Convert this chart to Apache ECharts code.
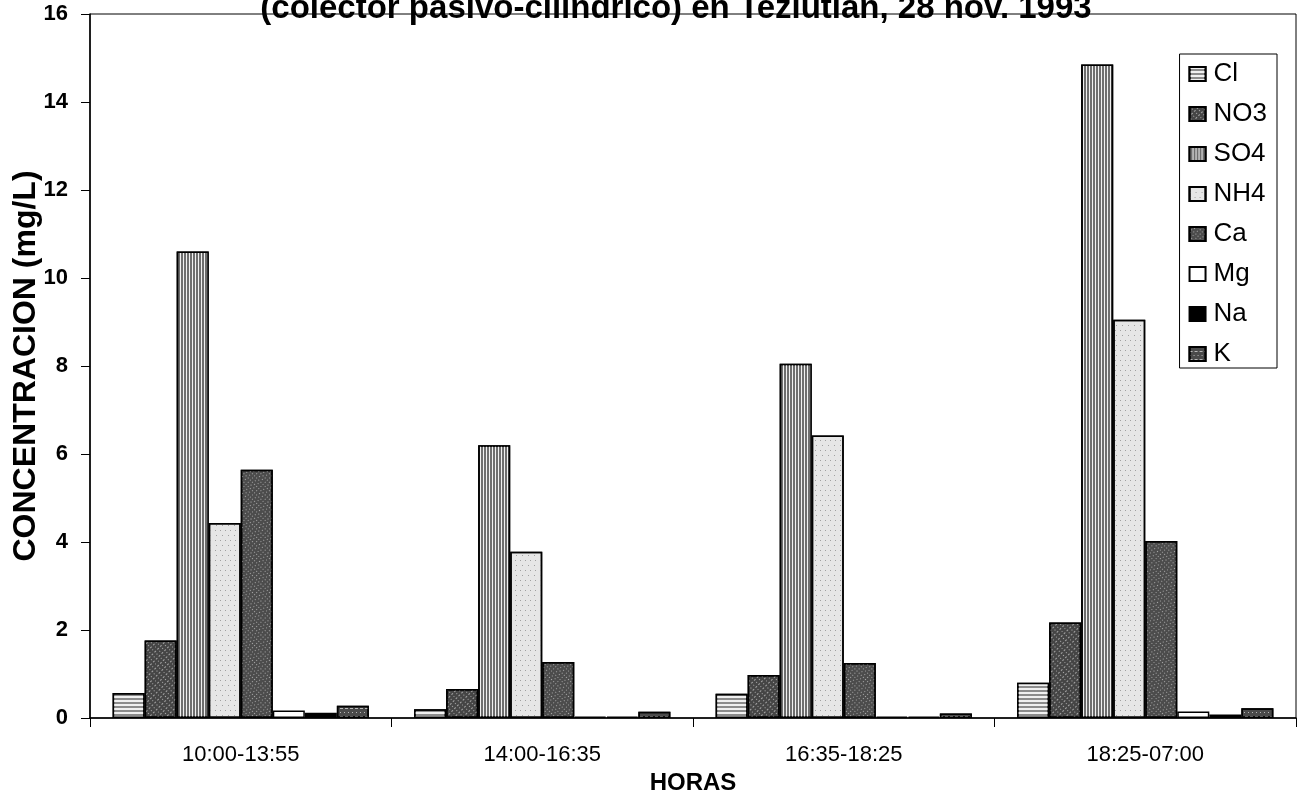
<!DOCTYPE html>
<html>
<head>
<meta charset="utf-8">
<script src="https://cdn.jsdelivr.net/npm/echarts@6/dist/echarts.min.js"></script>
<style>
html,body{margin:0;padding:0;background:#fff;}
#chart{width:1300px;height:794px;}
</style>
</head>
<body>
<div id="chart"></div>
<script>
var categories = ['10:00-13:55', '14:00-16:35', '16:35-18:25', '18:25-07:00'];
var seriesNames = ['Cl', 'NO3', 'SO4', 'NH4', 'Ca', 'Mg', 'Na', 'K'];
var Cl  = [0.57, 0.20, 0.55, 0.80];
var NO3 = [1.76, 0.66, 0.98, 2.17];
var SO4 = [10.6, 6.2, 8.05, 14.85];
var NH4 = [4.43, 3.78, 6.42, 9.05];
var Ca  = [5.64, 1.27, 1.25, 4.02];
var Mg  = [0.17, 0.03, 0.03, 0.15];
var Na  = [0.12, 0.03, 0.03, 0.08];
var K   = [0.28, 0.14, 0.10, 0.22];
var yTicks = [0, 2, 4, 6, 8, 10, 12, 14, 16];

var FONT = 'Arial, "Liberation Sans", sans-serif';
var values = [Cl, NO3, SO4, NH4, Ca, Mg, Na, K];
var fills = ['#8c8c8c', '#454545', '#6e6e6e', '#e6e6e6', '#4c4c4c', '#ffffff', '#000000', '#4a4a4a'];
var decals = [
  {symbol:'rect', dashArrayX:[1,0], dashArrayY:[2,2], color:'#f0f0f0'},
  {symbol:'rect', dashArrayX:[[1,3],[2,2]], dashArrayY:[1,2], rotation:-Math.PI/4, color:'#a8a8a8', symbolSize:1},
  {symbol:'rect', dashArrayX:[1,2], dashArrayY:[1,0], color:'#f0f0f0'},
  {symbol:'rect', dashArrayX:[[1,5],[1,4]], dashArrayY:[1,4], color:'#a0a0a0', symbolSize:1},
  {symbol:'rect', dashArrayX:[[1,3],[1,2]], dashArrayY:[1,2], rotation:Math.PI/4, color:'#a8a8a8', symbolSize:1},
  'none',
  'none',
  {symbol:'rect', dashArrayX:[[3,2],[1,3]], dashArrayY:[1,3], color:'#b8b8b8', symbolSize:1}
];

var series = seriesNames.map(function(n, i){
  var s = {
    name: n,
    type: 'bar',
    data: values[i],
    barGap: '0%',
    barCategoryGap: '15%',
    itemStyle: {color: fills[i], borderColor: '#000', borderWidth: 1.5},
    emphasis: {disabled: true}
  };
  if (decals[i] !== 'none') s.itemStyle.decal = decals[i];
  return s;
});

var chart = echarts.init(document.getElementById('chart'), null, {renderer:'canvas'});
chart.setOption({
  animation: false,
  backgroundColor: '#fff',
  title: {
    text: '(colector pasivo-cilíndrico) en Teziutlan, 28 nov. 1993',
    left: 671, textAlign: 'center',
    top: -13,
    textStyle: {fontFamily: FONT, fontSize: 33, fontWeight: 'bold', color: '#000'}
  },
  legend: {
    orient: 'vertical',
    right: 23, top: 54,
    icon: 'rect',
    itemWidth: 16, itemHeight: 14, itemGap: 14,
    padding: [7, 10, 1, 9],
    borderColor: '#000', borderWidth: 1,
    backgroundColor: '#fff',
    textStyle: {fontFamily: FONT, fontSize: 26, lineHeight: 26, color: '#000', padding: [0,0,0,3]},
    data: seriesNames
  },
  grid: {
    left: 90, right: 4, top: 14, bottom: 76,
    outerBoundsMode: 'none',
    containLabel: false,
    show: true, borderColor: '#000', borderWidth: 1
  },
  xAxis: {
    type: 'category',
    data: categories,
    name: 'HORAS',
    nameLocation: 'middle',
    nameGap: 53,
    nameMoveOverlap: false,
    nameTextStyle: {fontFamily: FONT, fontSize: 24, fontWeight: 'bold', color: '#000'},
    axisLine: {lineStyle: {color: '#000', width: 1.5}},
    axisTick: {show: true, length: 9, inside: false, lineStyle: {color: '#000'}},
    axisLabel: {fontFamily: FONT, fontSize: 22, color: '#000', margin: 26}
  },
  yAxis: {
    type: 'value',
    min: yTicks[0], max: yTicks[yTicks.length-1], interval: 2,
    name: 'CONCENTRACION (mg/L)',
    nameLocation: 'middle',
    nameGap: 48,
    nameMoveOverlap: false,
    nameTextStyle: {fontFamily: FONT, fontSize: 32, fontWeight: 'bold', color: '#000'},
    axisLine: {show: true, lineStyle: {color: '#000', width: 1.5}},
    axisTick: {show: true, length: 9, lineStyle: {color: '#000'}},
    splitLine: {show: false},
    axisLabel: {fontFamily: FONT, fontSize: 22, fontWeight: 'bold', color: '#000', margin: 22,
      formatter: function(v){ return yTicks.indexOf(v) >= 0 ? String(v) : ''; }}
  },
  series: series
});
</script>
</body>
</html>
